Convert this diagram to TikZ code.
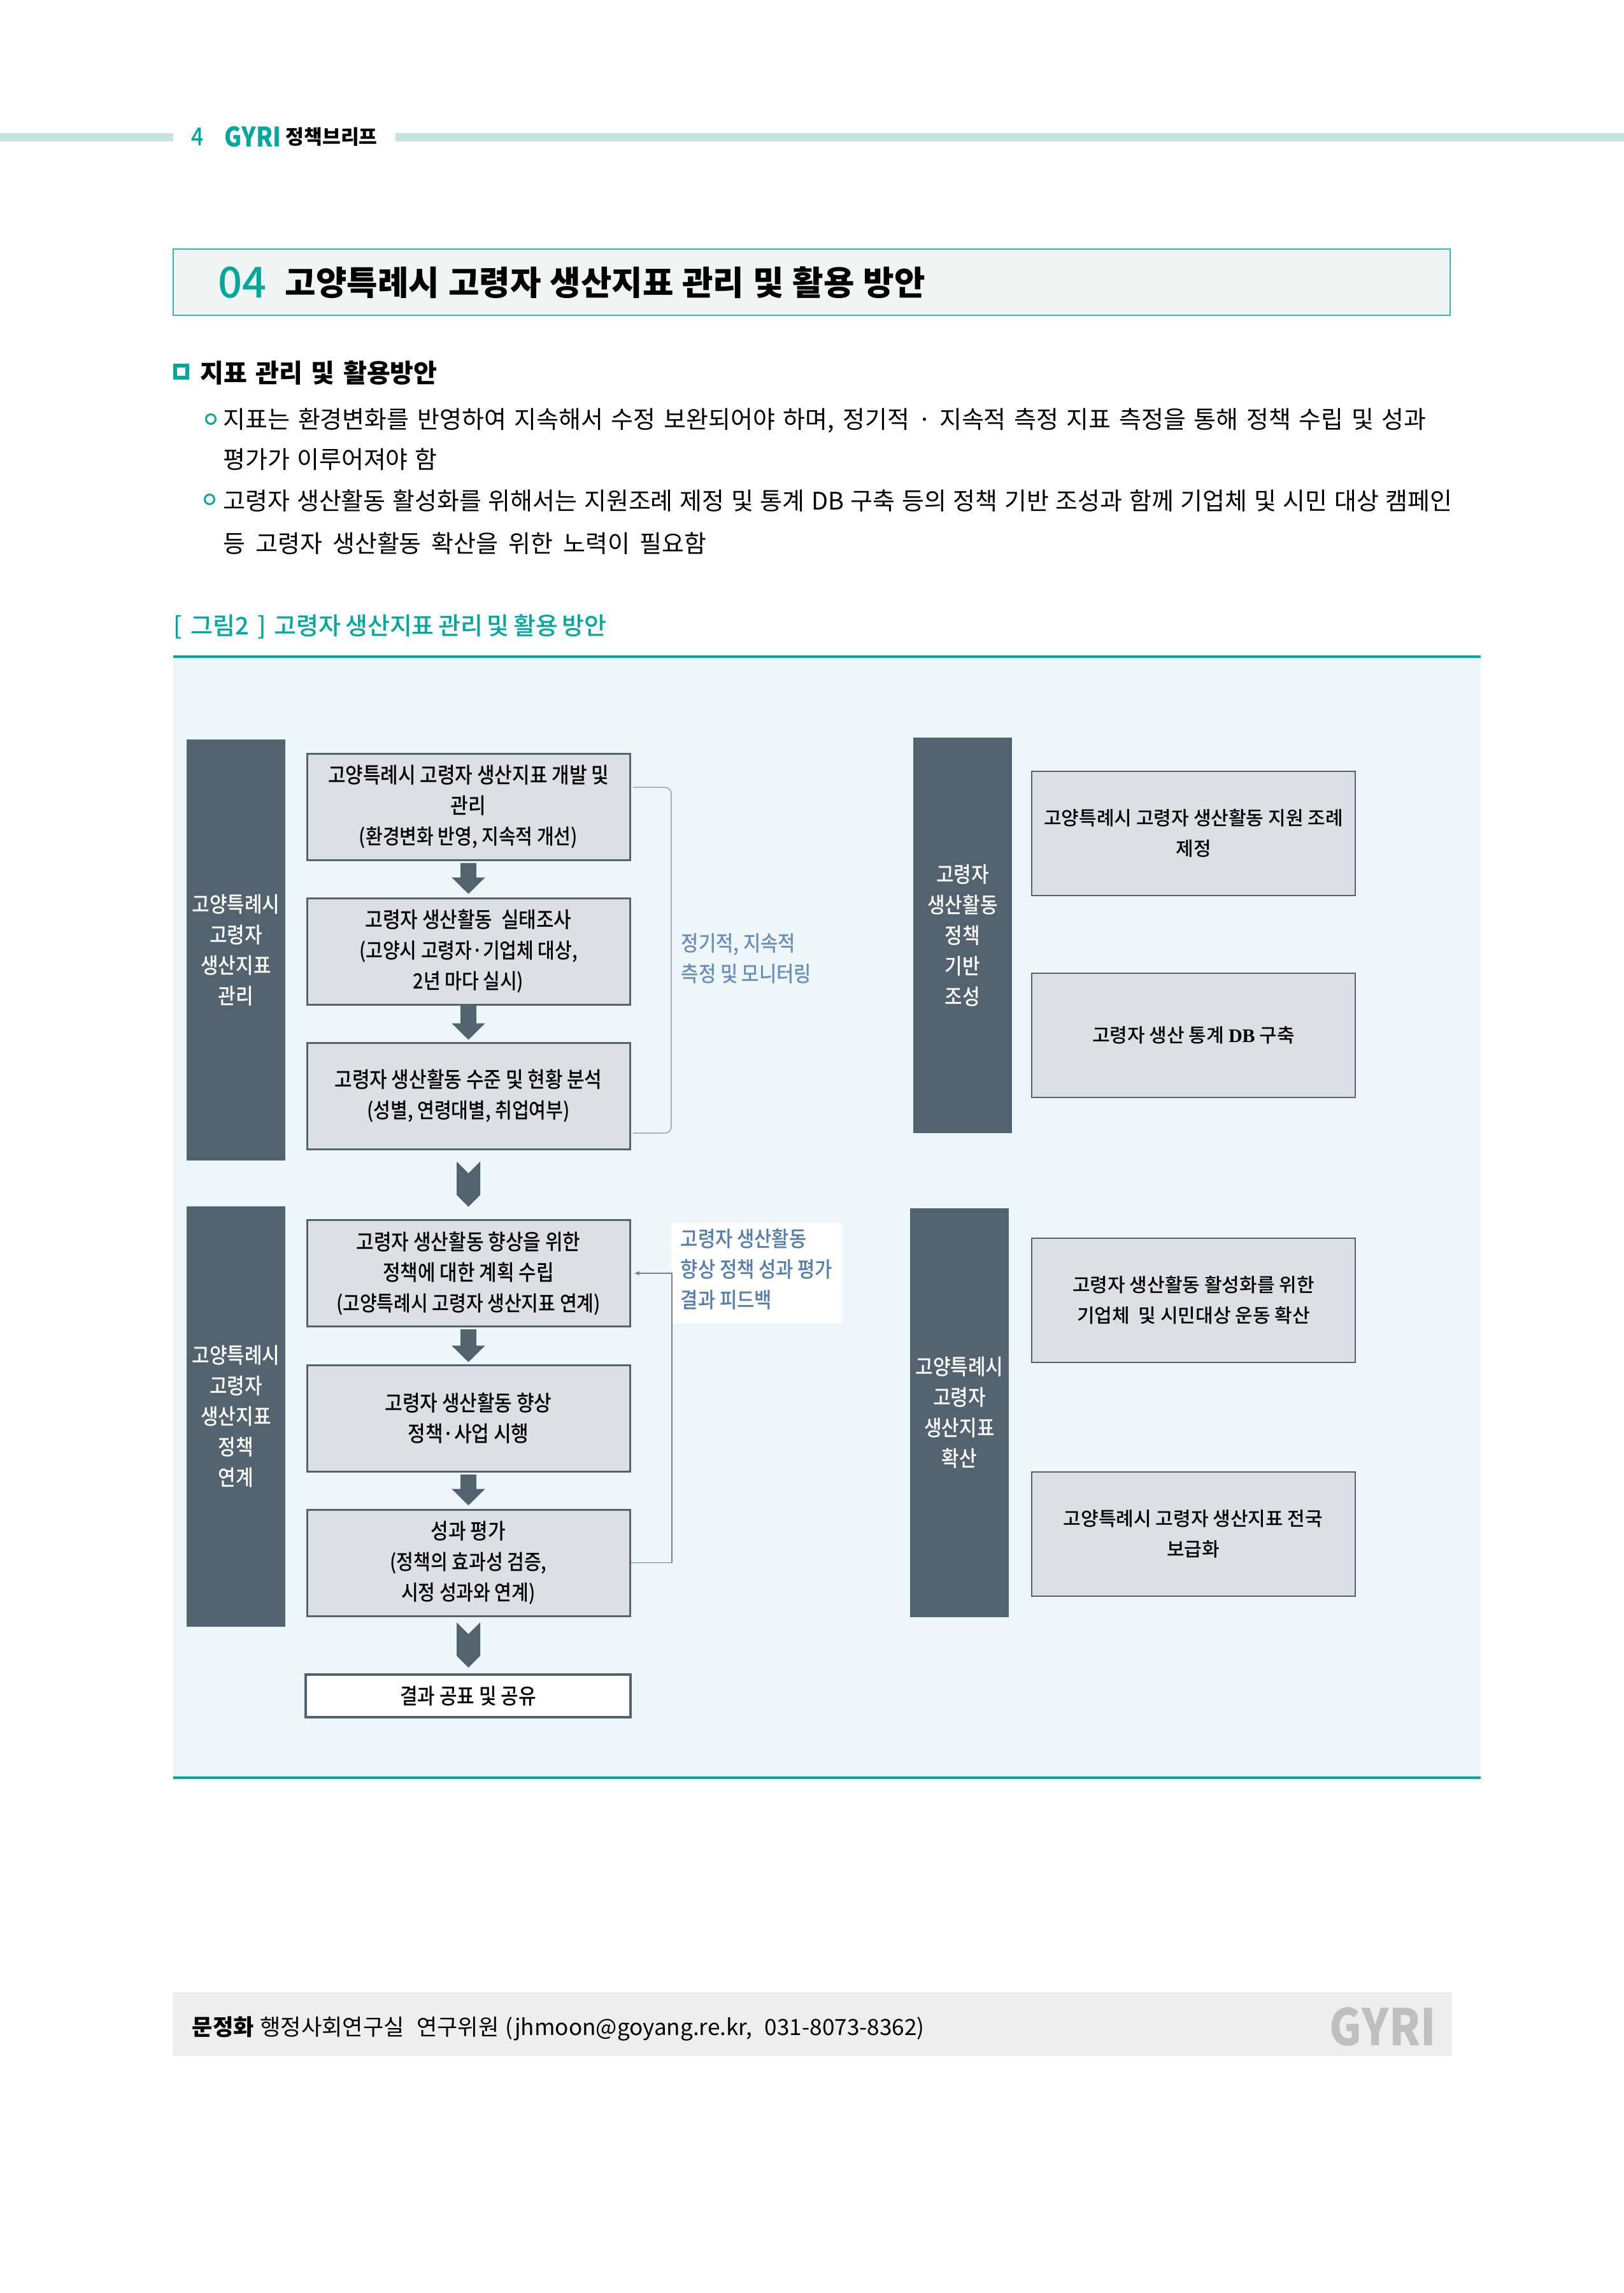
\documentclass[tikz,border=0pt]{standalone}
\usepackage{fontspec}
\usepackage{xcolor}
\usetikzlibrary{
    shapes.symbols,
    arrows.meta,
    positioning,
    calc
}
\setmainfont{Noto Sans CJK KR}
\newfontfamily\boxfont{Noto Sans CJK KR Medium}[FakeStretch=0.88]
\newfontfamily\sidefont{Noto Sans CJK KR Medium}
\newfontfamily\dbfont{Liberation Serif}
\definecolor{gyriteal}{RGB}{0, 167, 157}
\definecolor{barteal}{RGB}{198, 229, 225}
\definecolor{titlefill}{RGB}{238, 245, 243}
\definecolor{panelfill}{RGB}{237, 246, 248}
\definecolor{darkslate}{RGB}{82, 98, 110}
\definecolor{stepfill}{RGB}{219, 224, 228}
\definecolor{noteblue}{RGB}{84, 124, 172}
\definecolor{footgray}{RGB}{238, 238, 238}
\newcommand{\fitline}[2]{\makebox[#1][s]{#2}}
\tikzset{
    darkbar/.style={fill=darkslate, text=white, minimum width=1.55cm, inner sep=0pt, align=center, font=\boxfont\fontsize{9.7}{13.66}\selectfont},
    stepbox/.style={draw=darkslate, line width=0.03cm, fill=stepfill, minimum width=5.07cm, minimum height=1.67cm, inner sep=0pt, align=center, font=\boxfont\fontsize{9.7}{13.66}\selectfont},
    sidebox/.style={draw=darkslate, line width=0.02cm, fill=stepfill, minimum width=5.08cm, minimum height=1.95cm, inner sep=0pt, align=center, font=\sidefont\fontsize{8.55}{13.66}\selectfont},
    flowarrow/.style={draw=darkslate, line width=0.25cm, -{Triangle[width=0.51cm, length=0.26cm]}},
    chevron/.style={shape=signal, signal from=north, signal to=south, signal pointer angle=90, fill=darkslate, minimum width=0.37cm, minimum height=0.34cm, inner sep=0pt},
    bodyline/.style={anchor=west, inner sep=0pt, font=\fontsize{10.8}{13}\selectfont},
    notetext/.style={anchor=west, inner sep=0pt, align=left, text=noteblue, font=\boxfont\fontsize{9.6}{13.66}\selectfont},
    bulletdot/.style={shape=circle, draw=gyriteal, line width=0.03cm, minimum size=0.15cm, inner sep=0pt}
}

\begin{document}
\begin{tikzpicture}
        \useasboundingbox (0,0) rectangle (25.5,-36);

        % Page header
        \fill[barteal] (0,-2.09) rectangle (2.72,-2.22);
        \fill[barteal] (6.21,-2.09) rectangle (25.5,-2.22);
        \node[text=gyriteal, font=\boxfont\fontsize{11}{12}\selectfont] (pageno) at (3.1,-2.15) {4};
        \node[anchor=west, inner sep=0pt, text=gyriteal, font=\boxfont\bfseries\fontsize{12}{13}\selectfont] (logo) at (3.52,-2.15) {\fitline{0.88cm}{GYRI}};
        \node[anchor=west, inner sep=0pt, font=\bfseries\fontsize{8.9}{13}\selectfont] (brief) at (4.48,-2.15) {\fitline{1.44cm}{정책브리프}};

        % Section title
        \node[draw=gyriteal!80, line width=0.02cm, fill=titlefill, minimum width=20.05cm, minimum height=1.04cm, inner sep=0pt] (titlebox) at (12.745,-4.43) {};
        \node[anchor=west, inner sep=0pt, text=gyriteal, font=\sidefont\fontsize{19}{20}\selectfont] (titleno) at (3.42,-4.44) {04};
        \node[anchor=west, inner sep=0pt, font=\bfseries\fontsize{15}{18}\selectfont] (titletext) at (4.47,-4.44) {\fitline{10.05cm}{고양특례시 고령자 생산지표 관리 및 활용 방안}};

        % Body text
        \node[draw=gyriteal, line width=0.06cm, minimum size=0.19cm, inner sep=0pt] (sqmark) at (2.845,-5.83) {};
        \node[anchor=west, inner sep=0pt, font=\bfseries\fontsize{11.4}{13}\selectfont] (heading) at (3.14,-5.85) {\fitline{3.72cm}{지표 \ 관리 \ 및 \ 활용방안}};
        \node[bulletdot] (dotA) at (3.31,-6.58) {};
        \node[bodyline] (lineA) at (3.5,-6.6) {\fitline{18.89cm}{지표는 환경변화를 반영하여 지속해서 수정 보완되어야 하며, 정기적 · 지속적 측정 지표 측정을 통해 정책 수립 및 성과}};
        \node[bodyline] (lineB) at (3.5,-7.21) {\fitline{3.36cm}{평가가 이루어져야 함}};
        \node[bulletdot] (dotB) at (3.29,-7.84) {};
        \node[bodyline] (lineC) at (3.5,-7.86) {\fitline{19.3cm}{고령자 생산활동 활성화를 위해서는 지원조례 제정 및 통계 DB 구축 등의 정책 기반 조성과 함께 기업체 및 시민 대상 캠페인}};
        \node[bodyline] (lineD) at (3.5,-8.53) {\fitline{7.59cm}{등 고령자 생산활동 확산을 위한 노력이 필요함}};

        % Figure caption and panel
        \node[bodyline, text=gyriteal, font=\sidefont\fontsize{10.8}{13}\selectfont] (caption) at (2.72,-9.84) {\fitline{6.8cm}{[ \ 그림2 \ ] \ 고령자 생산지표 관리 및 활용 방안}};
        \fill[panelfill] (2.72,-10.31) rectangle (23.25,-27.91);
        \draw[gyriteal, line width=0.04cm] (2.72,-10.31) -- (23.25,-10.31);
        \draw[gyriteal, line width=0.04cm] (2.72,-27.91) -- (23.25,-27.91);

        % Left column bars
        \node[darkbar, minimum height=6.61cm] (barA) at (3.705,-14.915) {고양특례시\\고령자\\생산지표\\관리};
        \node[darkbar, minimum height=6.6cm] (barB) at (3.705,-22.24) {고양특례시\\고령자\\생산지표\\정책\\연계};

        % Left column steps
        \node[stepbox] (develop) at (7.355,-12.665) {고양특례시 고령자 생산지표 개발 및\\관리\\{\fontsize{9.4}{13.66}\selectfont (환경변화 반영, 지속적 개선)}};
        \node[stepbox] (survey) at (7.355,-14.935) {고령자 생산활동 \ 실태조사\\{\fontsize{9.4}{13.66}\selectfont (고양시 고령자·기업체 대상,}\\{\fontsize{9.4}{13.66}\selectfont 2년 마다 실시)}};
        \node[stepbox] (analysis) at (7.355,-17.205) {고령자 생산활동 수준 및 현황 분석\\{\fontsize{9.4}{13.66}\selectfont (성별, 연령대별, 취업여부)}};
        \node[chevron] (chevA) at (7.355,-18.59) {};
        \node[stepbox] (plan) at (7.355,-19.99) {고령자 생산활동 향상을 위한\\정책에 대한 계획 수립\\{\fontsize{9.4}{13.66}\selectfont (고양특례시 고령자 생산지표 연계)}};
        \node[stepbox] (action) at (7.355,-22.265) {고령자 생산활동 향상\\정책·사업 시행};
        \node[stepbox] (review) at (7.355,-24.535) {성과 평가\\{\fontsize{9.4}{13.66}\selectfont (정책의 효과성 검증,}\\{\fontsize{9.4}{13.66}\selectfont 시정 성과와 연계)}};
        \node[chevron] (chevB) at (7.355,-25.825) {};
        \node[stepbox, fill=white, line width=0.04cm, minimum width=5.1cm, minimum height=0.67cm] (publish) at (7.35,-26.625) {결과 공표 및 공유};

        % Step arrows
        \draw[flowarrow, shorten <=0.03cm, shorten >=0.05cm] (develop) -- (survey);
        \draw[flowarrow, shorten >=0.03cm] (survey) -- (analysis);
        \draw[flowarrow, shorten <=0.03cm, shorten >=0.03cm] (plan) -- (action);
        \draw[flowarrow, shorten <=0.03cm, shorten >=0.05cm] (action) -- (review);

        % Bracket and note
        \coordinate (brackettop) at (9.94,-12.36);
        \coordinate (bracketend) at (9.94,-17.79);
        \draw[darkslate!70, line width=0.012cm, rounded corners=0.1cm] (brackettop) -- (10.54,-12.36) -- (10.54,-17.79) -- (bracketend);
        \node[notetext, text=noteblue!85] (regular) at (10.69,-15.05) {정기적, 지속적\\측정 및 모니터링};

        % Feedback
        \node[fill=white, minimum width=2.68cm, minimum height=1.58cm, inner sep=0pt] (notebox) at (11.88,-19.99) {};
        \node[notetext] (feedtext) at (10.68,-19.93) {고령자 생산활동\\향상 정책 성과 평가\\결과 피드백};
        \draw[darkslate!80, line width=0.015cm, -{Latex[length=0.08cm, width=0.07cm]}, shorten >=0.05cm] (review.east) -- (10.55,-24.535) |- (plan.east);

        % Right column
        \node[darkbar, minimum height=6.21cm] (barC) at (15.115,-14.685) {고령자\\생산활동\\정책\\기반\\조성};
        \node[sidebox] (ordinance) at (18.74,-13.085) {고양특례시 고령자 생산활동 지원 조례\\제정};
        \node[sidebox] (database) at (18.74,-16.25) {고령자 생산 통계 {\dbfont\bfseries DB} 구축};
        \node[darkbar, minimum height=6.42cm] (barD) at (15.065,-22.18) {고양특례시\\고령자\\생산지표\\확산};
        \node[sidebox] (campaign) at (18.74,-20.41) {고령자 생산활동 활성화를 위한\\기업체 \ 및 시민대상 운동 확산};
        \node[sidebox] (spread) at (18.735,-24.085) {고양특례시 고령자 생산지표 전국\\보급화};

        % Footer
        \node[fill=footgray, minimum width=20.09cm, minimum height=1.0cm, inner sep=0pt] (footbar) at (12.755,-31.78) {};
        \node[anchor=west, inner sep=0pt, font=\fontsize{10}{12}\selectfont] (author) at (3.01,-31.85) {\fitline{11.5cm}{\textbf{문정화} 행정사회연구실 \ 연구위원 (jhmoon@goyang.re.kr, \ 031-8073-8362)}};
        \node[anchor=west, inner sep=0pt, text=black!25, font=\boxfont\bfseries\fontsize{22.5}{24}\selectfont] (footlogo) at (20.87,-31.82) {\fitline{1.6cm}{GYRI}};
\end{tikzpicture}
\end{document}
